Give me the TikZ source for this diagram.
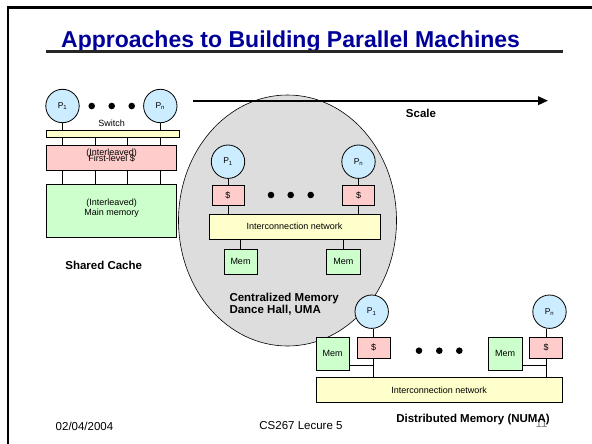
\documentclass[tikz,border=0pt]{standalone}
\usepackage{fontspec}
\setmainfont{Liberation Sans}
\usetikzlibrary{shapes.geometric,arrows.meta}
\definecolor{procblue}{RGB}{204,236,255}
\definecolor{cachepink}{RGB}{255,204,204}
\definecolor{netyellow}{RGB}{255,255,204}
\definecolor{memgreen}{RGB}{204,255,204}
\definecolor{umagray}{RGB}{221,221,221}
\definecolor{titleblue}{RGB}{0,0,153}
\begin{document}
\begin{tikzpicture}[x=1pt,y=-1pt,
  proc/.style={circle, draw, line width=0.8pt, fill=procblue, minimum size=33.4pt, inner sep=0pt, font=\fontsize{8.5}{9}\selectfont},
  box/.style={draw, line width=0.7pt, inner sep=0pt, font=\fontsize{9}{10}\selectfont},
  cachebox/.style={box, fill=cachepink},
  netbox/.style={box, fill=netyellow},
  membox/.style={box, fill=memgreen},
  bigdot/.style={circle, fill=black, minimum size=6.6pt, inner sep=0pt},
  lbl/.style={font=\fontsize{11.5}{13}\selectfont\bfseries},
  smalltxt/.style={font=\fontsize{9}{10}\selectfont, inner sep=0pt},
  foot/.style={font=\fontsize{11.5}{13}\selectfont},
  link/.style={line width=0.9pt}]
\useasboundingbox (0,0) rectangle (592,444);
% frame
\draw[line width=2.5pt] (8,444) -- (8,7.5) -- (592,7.5);
% title
\node[anchor=base west, inner sep=0pt, font=\fontsize{23}{27}\selectfont\bfseries, text=titleblue] (title) at (61,47.5) {Approaches to Building Parallel Machines};
\coordinate (u1) at (46,51.5);
\coordinate (u2) at (563,51.5);
\draw[line width=2.5pt, black!85] (u1) -- (u2);

% ---- Shared cache ----
\node[proc] (sp1) at (62.5,106) {P\textsubscript{1}};
\node[proc] (spn) at (160.3,106) {P\textsubscript{n}};
\node[bigdot] (sd1) at (91.7,106) {};
\node[bigdot] (sd2) at (111.7,106) {};
\node[bigdot] (sd3) at (131.7,106) {};
\node[smalltxt] (swl) at (111.7,123.3) {Switch};
\node[netbox, minimum width=132.3pt, minimum height=7.7pt] (sw) at (112.85,133.85) {};
\node[cachebox, minimum width=130pt, minimum height=25pt] (sc) at (111.7,158.2) {};
\node[smalltxt] (sct1) at (111.7,152.7) {(Interleaved)};
\node[smalltxt] (sct2) at (111.7,158.9) {First-level \$};
\node[membox, minimum width=130pt, minimum height=53pt] (sm) at (111.7,210.8) {};
\node[smalltxt] (smt1) at (111.7,203.3) {(Interleaved)};
\node[smalltxt] (smt2) at (111.7,213.3) {Main memory};
\node[lbl] (shc) at (103.7,265) {Shared Cache};
\draw[link] (sp1) -- (sw.north -| sp1);
\draw[link] (spn) -- (sw.north -| spn);
\coordinate (k1) at (62.5,0);
\coordinate (k2) at (95.2,0);
\coordinate (k3) at (127.8,0);
\coordinate (k4) at (160.5,0);
\foreach \k in {k1,k2,k3,k4}{
  \draw[link] (sw.south -| \k) -- (sc.north -| \k);
  \draw[link] (sc.south -| \k) -- (sm.north -| \k);
}

% ---- Centralized ----
\node[ellipse, draw, line width=0.6pt, fill=umagray, minimum width=218pt, minimum height=251pt, inner sep=0pt] (uma) at (287.5,220.5) {};
\coordinate (sa) at (193.3,100.7);
\coordinate (sb) at (548,100.7);
\draw[line width=2pt, -{Triangle[length=10pt,width=8.5pt]}] (sa) -- (sb);
\node[lbl] (scl) at (421,113.3) {Scale};

\node[proc] (cp1) at (228,161.7) {P\textsubscript{1}};
\node[proc] (cpn) at (358.5,161.7) {P\textsubscript{n}};
\node[cachebox, minimum width=32.3pt, minimum height=20pt] (cc1) at (228,195) {\$};
\node[cachebox, minimum width=32.3pt, minimum height=20pt] (ccn) at (358.5,195) {\$};
\node[bigdot] (cd1) at (271,195) {};
\node[bigdot] (cd2) at (290.7,195) {};
\node[bigdot] (cd3) at (310.7,195) {};
\node[netbox, minimum width=171pt, minimum height=24.7pt] (cnet) at (294.5,226.7) {Interconnection network};
\node[membox, minimum width=33.3pt, minimum height=24.7pt] (cm1) at (240.5,261.7) {Mem};
\node[membox, minimum width=33.3pt, minimum height=24.7pt] (cmn) at (343.3,261.7) {Mem};
\draw[link] (cp1) -- (cc1);
\draw[link] (cpn) -- (ccn);
\draw[link] (cc1) -- (cc1 |- cnet.north);
\draw[link] (ccn) -- (ccn |- cnet.north);
\draw[link] (cm1) -- (cm1 |- cnet.south);
\draw[link] (cmn) -- (cmn |- cnet.south);
\node[lbl, anchor=west, inner sep=0pt] (cml1) at (229.3,298.3) {Centralized Memory};
\node[lbl, anchor=west, inner sep=0pt] (cml2) at (229.3,310.7) {Dance Hall, UMA};

% ---- Distributed ----
\node[proc] (dp1) at (371.7,311.7) {P\textsubscript{1}};
\node[proc] (dpn) at (549.5,311.7) {P\textsubscript{n}};
\node[cachebox, minimum width=32.7pt, minimum height=21pt] (dc1) at (373.7,347.8) {\$};
\node[cachebox, minimum width=32.7pt, minimum height=21pt] (dcn) at (546,347.8) {\$};
\node[membox, minimum width=33.3pt, minimum height=32.7pt] (dm1) at (332.7,353.7) {Mem};
\node[membox, minimum width=33.3pt, minimum height=32.7pt] (dmn) at (505.2,353.7) {Mem};
\node[bigdot] (dd1) at (419,350.7) {};
\node[bigdot] (dd2) at (439.3,350.7) {};
\node[bigdot] (dd3) at (459.3,350.7) {};
\node[netbox, minimum width=246.3pt, minimum height=24.6pt] (dnet) at (439.2,390) {Interconnection network};
\draw[link] (dc1.north) -- (dc1.north |- dp1.south);
\draw[link] (dcn.north) -- (dcn.north |- dpn.south);
\draw[link] (dc1.south) -- (dc1.south |- dnet.north);
\draw[link] (dcn.south) -- (dcn.south |- dnet.north);
\coordinate (dh) at (0,365);
\draw[link] (dm1.east |- dh) -- (dc1.south |- dh);
\draw[link] (dmn.east |- dh) -- (dcn.south |- dh);
\node[foot, text=gray] (pg) at (541.5,424) {11};
\node[lbl] (dml) at (473,420) {Distributed Memory (NUMA)};

% footer
\node[foot] (fd) at (84.5,426) {02/04/2004};
\node[foot] (fc) at (301,426) {CS267 Lecure 5};
\end{tikzpicture}
\end{document}
